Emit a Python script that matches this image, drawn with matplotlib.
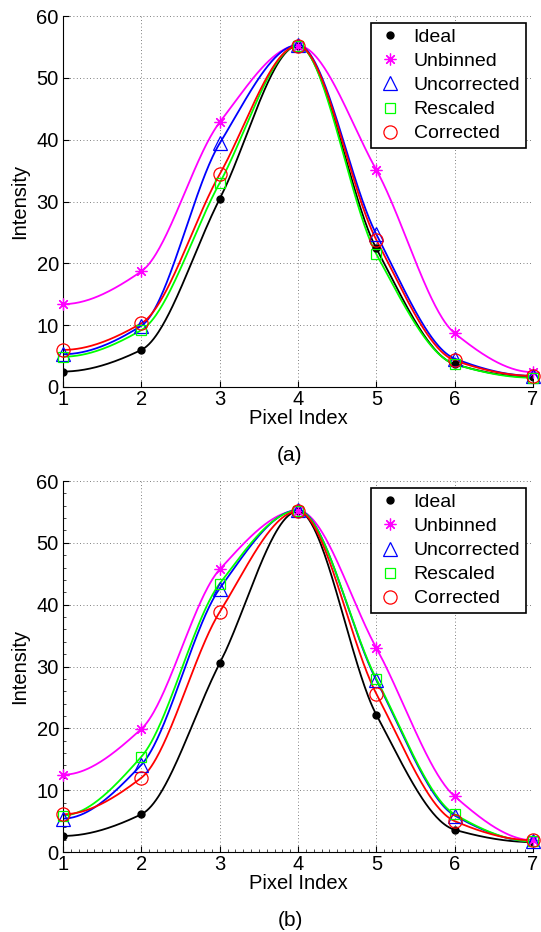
import numpy as np
import matplotlib
matplotlib.use("Agg")
import matplotlib.pyplot as plt
from matplotlib.ticker import MultipleLocator

plt.rcParams['font.family'] = ['Liberation Sans', 'DejaVu Sans']

pixels = [1, 2, 3, 4, 5, 6, 7]
labels = ["Ideal", "Unbinned", "Uncorrected", "Rescaled", "Corrected"]

# panel (a)
ideal_a = [2.5, 6.0, 30.4, 55.2, 22.4, 3.7, 1.6]
unbinned_a = [13.4, 18.7, 42.8, 55.2, 35.1, 8.7, 2.4]
uncorrected_a = [5.3, 9.9, 39.4, 55.3, 24.7, 4.6, 1.8]
rescaled_a = [4.9, 9.2, 33.0, 55.2, 21.5, 3.7, 1.5]
corrected_a = [6.0, 10.3, 34.4, 55.2, 23.8, 4.3, 1.8]

# panel (b)
ideal_b = [2.6, 6.1, 30.5, 55.1, 22.2, 3.6, 1.6]
unbinned_b = [12.5, 19.9, 45.7, 55.2, 33.0, 9.0, 1.9]
uncorrected_b = [5.4, 14.1, 42.6, 55.3, 27.8, 5.9, 1.7]
rescaled_b = [5.9, 15.4, 43.4, 55.2, 28.0, 6.1, 1.7]
corrected_b = [6.1, 12.0, 38.8, 55.1, 25.6, 5.0, 1.9]

colors = ["#000000", "#ff00ff", "#0000ff", "#00ff00", "#ff0000"]
markers = ["o", (8, 2, 0), "^", "s", "o"]
msizes = [5, 8.5, 9.5, 7, 9.5]


def pchip(x, y, xs):
    x = np.asarray(x, float)
    y = np.asarray(y, float)
    n = len(x)
    h = np.diff(x)
    delta = np.diff(y) / h
    d = np.zeros(n)
    for k in range(1, n - 1):
        if delta[k - 1] * delta[k] > 0:
            w1 = 2 * h[k] + h[k - 1]
            w2 = h[k] + 2 * h[k - 1]
            d[k] = (w1 + w2) / (w1 / delta[k - 1] + w2 / delta[k])

    def endslope(h0, h1, d0, d1):
        s = ((2 * h0 + h1) * d0 - h0 * d1) / (h0 + h1)
        if np.sign(s) != np.sign(d0):
            s = 0.0
        elif np.sign(d0) != np.sign(d1) and abs(s) > abs(3 * d0):
            s = 3 * d0
        return s

    d[0] = endslope(h[0], h[1], delta[0], delta[1])
    d[-1] = endslope(h[-1], h[-2], delta[-1], delta[-2])
    idx = np.clip(np.searchsorted(x, xs) - 1, 0, n - 2)
    t = (xs - x[idx]) / h[idx]
    h00 = 2 * t**3 - 3 * t**2 + 1
    h10 = t**3 - 2 * t**2 + t
    h01 = -2 * t**3 + 3 * t**2
    h11 = t**3 - t**2
    return (h00 * y[idx] + h10 * h[idx] * d[idx] + h01 * y[idx + 1]
            + h11 * h[idx] * d[idx + 1])


fig = plt.figure(figsize=(5.41, 9.32), dpi=100)
ax_a = fig.add_axes([63 / 541, 1 - 387 / 932, 470 / 541, 371 / 932])
ax_b = fig.add_axes([63 / 541, 1 - 852 / 932, 470 / 541, 371 / 932])

panels = [
    (ax_a, [ideal_a, unbinned_a, uncorrected_a, rescaled_a, corrected_a], "(a)", 1 - 455 / 932, False),
    (ax_b, [ideal_b, unbinned_b, uncorrected_b, rescaled_b, corrected_b], "(b)", 1 - 920 / 932, True),
]

xs = np.linspace(1, 7, 400)
for ax, series, tag, ty, minor in panels:
    for vals, c in zip(series, colors):
        ax.plot(xs, pchip(pixels, vals, xs), color=c, lw=1.3, zorder=2)
    handles = []
    for vals, c, m, ms, lab in zip(series, colors, markers, msizes, labels):
        if lab == "Ideal":
            h, = ax.plot(pixels, vals, ls="none", marker=m, ms=ms, color=c,
                         mfc=c, mec=c, label=lab, zorder=3)
        else:
            h, = ax.plot(pixels, vals, ls="none", marker=m, ms=ms, mfc="none",
                         mec=c, mew=0.9, label=lab, zorder=3, clip_on=False)
        handles.append(h)
    ax.set_xlim(1, 7)
    ax.set_ylim(0, 60)
    ax.xaxis.set_major_locator(MultipleLocator(1))
    ax.yaxis.set_major_locator(MultipleLocator(10))
    if minor:
        ax.xaxis.set_minor_locator(MultipleLocator(0.1))
        ax.yaxis.set_minor_locator(MultipleLocator(2))
    ax.grid(True, which="major", color="#555555", lw=0.6, ls=(0, (1, 3)))
    ax.spines["top"].set_visible(False)
    ax.spines["right"].set_visible(False)
    ax.tick_params(direction="in", length=4, width=0.8, labelsize=14.5)
    ax.tick_params(axis="x", pad=2)
    ax.tick_params(axis="y", pad=3)
    ax.tick_params(which="minor", direction="in", length=2, width=0.5)
    ax.set_xlabel("Pixel Index", fontsize=14.5, labelpad=0)
    ax.set_ylabel("Intensity", fontsize=14.5, labelpad=5)
    leg = ax.legend(handles=handles, loc="upper right", fontsize=14,
                    frameon=True, fancybox=False, framealpha=1,
                    edgecolor="black", borderaxespad=0.35, handletextpad=0.5,
                    labelspacing=0.33, handlelength=1.4, borderpad=0.3)
    leg.get_frame().set_linewidth(1.2)
    fig.text(290 / 541, ty, tag, fontsize=15, ha="center", va="center")

fig.savefig("out.png", dpi=100)
